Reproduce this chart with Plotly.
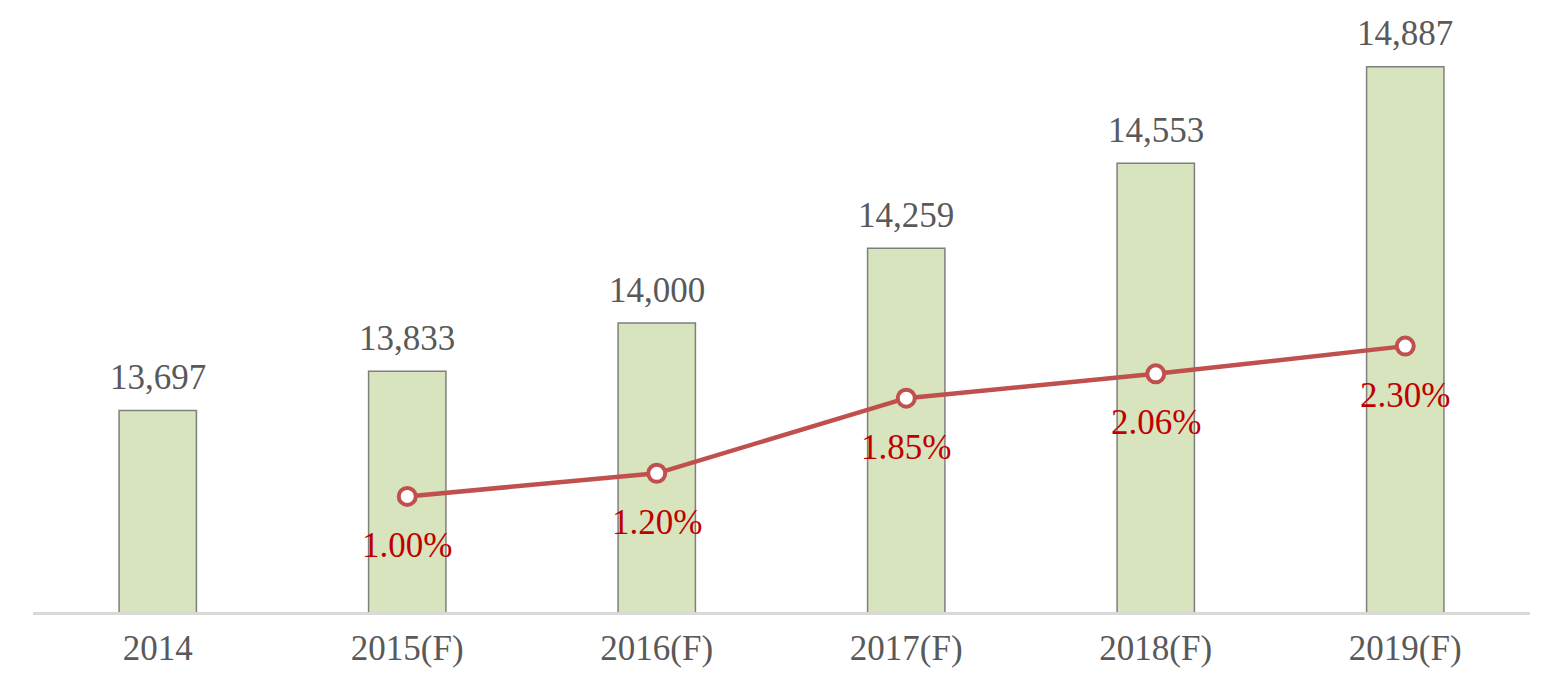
import plotly.graph_objects as go

categories = ["2014", "2015(F)", "2016(F)", "2017(F)", "2018(F)", "2019(F)"]
market_size = [13697, 13833, 14000, 14259, 14553, 14887]
growth_cats = ["2015(F)", "2016(F)", "2017(F)", "2018(F)", "2019(F)"]
growth_rate = [1.00, 1.20, 1.85, 2.06, 2.30]

FONT = "Liberation Serif"
FSIZE = 35

fig = go.Figure()
fig.add_trace(go.Bar(
    x=categories, y=market_size,
    marker=dict(color="#D7E4BD", line=dict(color="#7F7F7F", width=1.5)),
    width=0.31,
))
fig.add_trace(go.Scatter(
    x=growth_cats, y=growth_rate, yaxis="y2",
    mode="lines+markers",
    line=dict(color="#C0504D", width=4.5),
    marker=dict(size=17, color="white", line=dict(color="#C0504D", width=4)),
    cliponaxis=False,
))

annotations = []
for c, v in zip(categories, market_size):
    annotations.append(dict(x=categories.index(c), y=v, xref="x", yref="y", text=f"{v:,}",
                            showarrow=False, yanchor="middle", yshift=33,
                            font=dict(family=FONT, size=FSIZE, color="#595959")))
for c, v in zip(growth_cats, growth_rate):
    annotations.append(dict(x=categories.index(c), y=v, xref="x", yref="y2", text=f"{v:.2f}%",
                            showarrow=False, yanchor="middle", yshift=-49,
                            font=dict(family=FONT, size=FSIZE, color="#C00000")))

fig.update_layout(
    width=1565, height=681,
    margin=dict(l=25, r=43, t=26, b=77),
    paper_bgcolor="white", plot_bgcolor="white",
    showlegend=False,
    font=dict(family=FONT),
    annotations=annotations,
    xaxis=dict(type="category", categoryorder="array", categoryarray=categories,
               range=[-0.5, len(categories) - 0.5],
               showline=True, linecolor="#D9D9D9", linewidth=3,
               ticks="outside", ticklen=3, tickcolor="rgba(0,0,0,0)",
               tickfont=dict(family=FONT, size=FSIZE, color="#595959"),
               showgrid=False),
    yaxis=dict(range=[13000, 15000], visible=False, showgrid=False),
    yaxis2=dict(range=[0, 5], overlaying="y", visible=False, showgrid=False),
)
fig.write_html("out.html")
